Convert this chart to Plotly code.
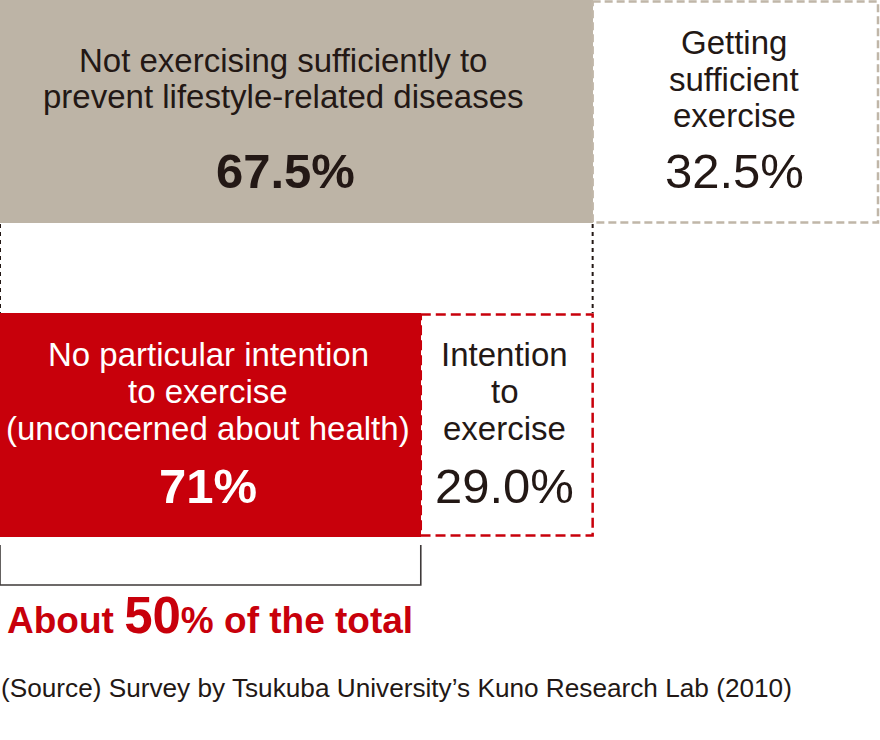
import plotly.graph_objects as go

# Share of respondents (percent of total) — top split
top_shares = [67.5, 32.5]
top_values_text = ["67.5%", "32.5%"]
top_label_lines = [
    ["Not exercising sufficiently to", "prevent lifestyle-related diseases"],
    ["Getting", "sufficient", "exercise"],
]

# Breakdown of the "not exercising" group (percent of that group)
sub_shares = [71, 29.0]
sub_values_text = ["71%", "29.0%"]
sub_label_lines = [
    ["No particular intention", "to exercise", "(unconcerned about health)"],
    ["Intention", "to", "exercise"],
]

summary_big = "50"
source_note = "(Source) Survey by Tsukuba University\u2019s Kuno Research Lab (2010)"

GRAY = "#bdb4a6"
GRAY_LINE = "#c0b6a8"
RED = "#c8000b"
INK = "#231815"
FONT = "Liberation Sans, Arial, Helvetica, sans-serif"

W, H = 880, 740
X_MAX = 100 * W / 878.0

# vertical layout of the two bars (pixel units on the y axis)
TOP_C, TOP_W = 111.5, 223
SUB_C, SUB_W = 425, 224

fig = go.Figure()

# top bar: not exercising (filled) + getting exercise (outlined)
fig.add_trace(go.Bar(
    orientation="h", y=[TOP_C], x=[top_shares[0]], base=[0], width=[TOP_W],
    marker=dict(color=GRAY, line=dict(width=0)), hoverinfo="skip", showlegend=False,
))
fig.add_trace(go.Bar(
    orientation="h", y=[TOP_C], x=[top_shares[1]], base=[top_shares[0]], width=[TOP_W],
    marker=dict(color="rgba(255,255,255,0)", line=dict(width=0)), hoverinfo="skip", showlegend=False,
))

# lower bar: breakdown of the not-exercising share
sub_abs = [top_shares[0] * s / 100.0 for s in sub_shares]
fig.add_trace(go.Bar(
    orientation="h", y=[SUB_C], x=[sub_abs[0]], base=[0], width=[SUB_W],
    marker=dict(color=RED, line=dict(width=0)), hoverinfo="skip", showlegend=False,
))
fig.add_trace(go.Bar(
    orientation="h", y=[SUB_C], x=[sub_abs[1]], base=[sub_abs[0]], width=[SUB_W],
    marker=dict(color="rgba(255,255,255,0)", line=dict(width=0)), hoverinfo="skip", showlegend=False,
))

shapes = []
top_y0, top_y1 = TOP_C - TOP_W / 2, TOP_C + TOP_W / 2
sub_y0, sub_y1 = SUB_C - SUB_W / 2, SUB_C + SUB_W / 2

# dashed outline of the "getting sufficient exercise" segment
shapes.append(dict(type="rect", xref="x", yref="y",
                   x0=top_shares[0], x1=top_shares[0] + top_shares[1],
                   y0=top_y0 + 1.5, y1=top_y1 - 0.5,
                   line=dict(color=GRAY_LINE, width=2.5, dash="8px,4px"),
                   fillcolor="rgba(0,0,0,0)", layer="above"))

# dashed outline of the "intention to exercise" segment
shapes.append(dict(type="rect", xref="x", yref="y",
                   x0=sub_abs[0], x1=top_shares[0],
                   y0=sub_y0 + 1.5, y1=sub_y1 - 1.5,
                   line=dict(color=RED, width=2.5, dash="10px,5px"),
                   fillcolor="rgba(0,0,0,0)", layer="above"))

# dotted connectors between the two bars
for xv in (0, top_shares[0]):
    shapes.append(dict(type="line", xref="x", yref="y",
                       x0=xv, x1=xv, y0=top_y1 + 1, y1=sub_y0,
                       line=dict(color=INK, width=2, dash="4px,4px"), layer="above"))

# bracket under the "no intention" segment
br_top, br_bot = 545, 585
shapes.append(dict(type="path", xref="x", yref="y",
                   path=f"M 0,{br_top} L 0,{br_bot} L {sub_abs[0]},{br_bot} L {sub_abs[0]},{br_top}",
                   line=dict(color="#3e3a39", width=1.6)))

annotations = []


def add_lines(xc, centers, lines, size, color, bold=False, xshift=0):
    for yc, txt in zip(centers, lines):
        t = f"<b>{txt}</b>" if bold else txt
        annotations.append(dict(x=xc, y=yc, xref="x", yref="y", text=t, showarrow=False,
                                xanchor="center", yanchor="middle", xshift=xshift,
                                font=dict(family=FONT, size=size, color=color)))


# top bar labels
left_c = top_shares[0] / 2
right_c = top_shares[0] + top_shares[1] / 2
add_lines(left_c, [60.5, 96], top_label_lines[0], 33, INK, xshift=-13)
add_lines(left_c, [171], [top_values_text[0]], 49, INK, bold=True, xshift=-11)
add_lines(right_c, [42.5, 79, 115.5], top_label_lines[1], 33, INK, xshift=-1)
add_lines(right_c, [171], [top_values_text[1]], 49, INK, xshift=-1)

# lower bar labels
red_c = sub_abs[0] / 2
int_c = sub_abs[0] + sub_abs[1] / 2
add_lines(red_c, [354.5, 391.5, 428.5], sub_label_lines[0], 33, "white", xshift=-2)
add_lines(red_c, [486], [sub_values_text[0]], 49, "white", bold=True, xshift=-2)
add_lines(int_c, [354.5, 391.5, 428.5], sub_label_lines[1], 33, INK, xshift=-2)
add_lines(int_c, [486], [sub_values_text[1]], 49, INK, xshift=-2)

# summary under the bracket
annotations.append(dict(
    x=0, y=615, xref="x", yref="y", xanchor="left", yanchor="middle", showarrow=False, xshift=5,
    text=f"<b>About <span style='font-size:51px'>{summary_big}</span>% of the total</b>",
    font=dict(family=FONT, size=37, color=RED)))

# source note
annotations.append(dict(
    x=0, y=688, xref="x", yref="y", xanchor="left", yanchor="middle", showarrow=False, xshift=-1,
    text=source_note, font=dict(family=FONT, size=26.2, color=INK)))

fig.update_layout(
    width=W, height=H,
    margin=dict(l=0, r=0, t=0, b=0),
    paper_bgcolor="white", plot_bgcolor="white",
    barmode="overlay", bargap=0,
    xaxis=dict(range=[0, X_MAX], visible=False, fixedrange=True),
    yaxis=dict(range=[H, 0], visible=False, fixedrange=True),
    shapes=shapes, annotations=annotations,
)

fig.write_html("out.html")
